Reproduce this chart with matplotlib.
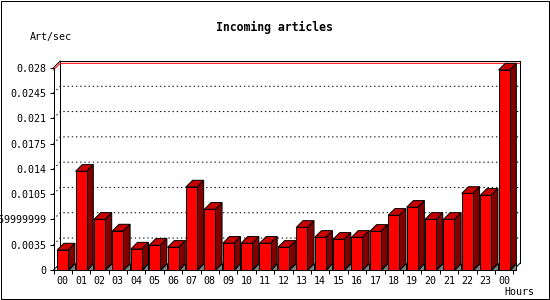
import matplotlib
matplotlib.use('Agg')
import matplotlib.pyplot as plt
from matplotlib.patches import Polygon, Rectangle

# hourly incoming article rate (Art/sec)
hours = ['00', '01', '02', '03', '04', '05', '06', '07', '08', '09', '10', '11',
         '12', '13', '14', '15', '16', '17', '18', '19', '20', '21', '22', '23', '00']
rate = [0.00277, 0.01366, 0.00701, 0.0054, 0.0029, 0.00342, 0.00314, 0.01149,
        0.0084, 0.0037, 0.0037, 0.0037, 0.00314, 0.0059, 0.00452, 0.00425,
        0.00452, 0.00535, 0.00757, 0.00868, 0.00701, 0.00701, 0.0106, 0.01034,
        0.02768]
yticks = [0, 0.0035, 0.007, 0.0105, 0.014, 0.0175, 0.021, 0.0245, 0.028]
ytick_labels = ['0', '0.0035', '0.0069999999', '0.0105', '0.014', '0.0175',
                '0.021', '0.0245', '0.028']

W, H = 550, 300
mono = 'DejaVu Sans Mono'
plt.rcParams['font.family'] = mono

fig = plt.figure(figsize=(W / 100, H / 100), dpi=100)
fig.patch.set_facecolor('white')

# front plane of the 3d box (pixel geometry of the original)
x_left, x_right, y_bot, y_top = 53.5, 513.3, 270, 67.7
ax = fig.add_axes([x_left / W, 1 - y_bot / H, (x_right - x_left) / W, (y_bot - y_top) / H])
n = len(rate)
ymax = yticks[-1]
ax.set_xlim(0, n)
ax.set_ylim(0, ymax)
ax.patch.set_alpha(0)

# depth offset (6.7 px) in data units
depth_px = 6.7
dx = depth_px / ((x_right - x_left) / n)
dy = depth_px / (y_bot - y_top) * ymax

lw = 0.72
kw = dict(clip_on=False, lw=lw)

# back wall outline
ax.plot([dx, dx, n + dx, n + dx], [dy, ymax + dy, ymax + dy, dy], color='black', zorder=1, **kw)
ax.plot([0, dx], [ymax, ymax + dy], color='black', zorder=1, **kw)
ax.plot([0, dx], [0, dy], color='black', zorder=1, **kw)
ax.plot([n, n + dx], [0, dy], color='black', zorder=1, **kw)

# dotted grid on back wall
for v in yticks[1:-1]:
    ax.plot([0, dx, n + dx], [v, v + dy, v + dy], color='black',
            linestyle=(0, (1.4, 2.8)), zorder=1, **kw)

# max line in red
top = max(rate)
ax.plot([0, dx, n + dx], [top, top + dy, top + dy], color='#ff0000', zorder=1.5, **kw)

# 3d bars
bw = 0.6
for i, v in enumerate(rate):
    x0 = i + 0.2
    x1 = x0 + bw
    ax.add_patch(Polygon([(x1, 0), (x1 + dx, 0), (x1 + dx, dy)], closed=True,
                         facecolor='#808080', edgecolor='black', zorder=2, **kw))
    ax.add_patch(Polygon([(x1, 0), (x1 + dx, dy), (x1 + dx, v + dy), (x1, v)], closed=True,
                         facecolor='#800000', edgecolor='black', zorder=3, **kw))
    ax.add_patch(Polygon([(x0, v), (x0 + dx, v + dy), (x1 + dx, v + dy), (x1, v)], closed=True,
                         facecolor='#c80000', edgecolor='black', zorder=3, **kw))
    ax.add_patch(Rectangle((x0, 0), bw, v, facecolor='#ff0000', edgecolor='black',
                           zorder=4, **kw))

# axes
for s in ['top', 'right']:
    ax.spines[s].set_visible(False)
for s in ['left', 'bottom']:
    ax.spines[s].set_linewidth(lw)
    ax.spines[s].set_zorder(5)

ax.set_yticks(yticks, ytick_labels)
ax.tick_params(axis='y', length=2.9, width=lw, pad=2, labelsize=7.2)
ax.set_xticks(range(n + 1), [''] * (n + 1))
ax.set_xticks([i + 0.5 for i in range(n)], hours, minor=True)
ax.tick_params(axis='x', which='major', length=2.9, width=lw)
ax.tick_params(axis='x', which='minor', length=0, pad=4, labelsize=7.2)

fig.text(274 / W, 1 - 27 / H, 'Incoming articles', ha='center', va='center',
         fontsize=8.3, fontweight='bold', family=mono)
fig.text(30 / W, 1 - 37 / H, 'Art/sec', ha='left', va='center', fontsize=7.2, family=mono)
fig.text(534 / W, 1 - 292 / H, 'Hours', ha='right', va='center', fontsize=7.2, family=mono)

# image frame
fig.add_artist(Rectangle((0.5 / W, 1.5 / H), 548 / W, 298 / H, transform=fig.transFigure,
                         fill=False, edgecolor='black', lw=lw))

fig.savefig('out.png', dpi=100)
